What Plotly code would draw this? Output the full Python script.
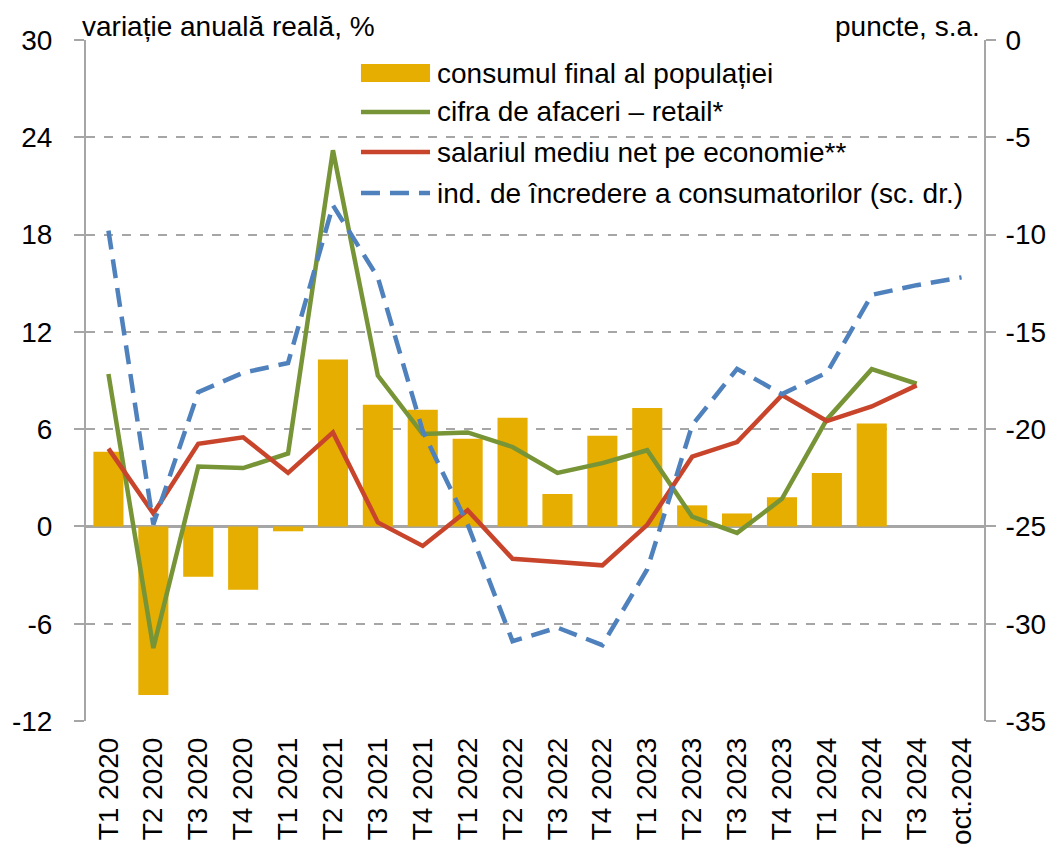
import plotly.graph_objects as go

categories = ["T1 2020", "T2 2020", "T3 2020", "T4 2020",
              "T1 2021", "T2 2021", "T3 2021", "T4 2021",
              "T1 2022", "T2 2022", "T3 2022", "T4 2022",
              "T1 2023", "T2 2023", "T3 2023", "T4 2023",
              "T1 2024", "T2 2024", "T3 2024", "oct.2024"]

consum = [4.6, -10.4, -3.1, -3.9, -0.3, 10.3, 7.5, 7.2, 5.4, 6.7,
          2.0, 5.6, 7.3, 1.3, 0.8, 1.8, 3.3, 6.35, None, None]
retail = [9.4, -7.5, 3.7, 3.6, 4.5, 23.2, 9.3, 5.7, 5.8, 4.9,
          3.3, 3.9, 4.7, 0.6, -0.4, 1.7, 6.6, 9.7, 8.8, None]
salariu = [4.8, 0.8, 5.1, 5.5, 3.3, 5.8, 0.25, -1.2, 1.0, -2.0,
           -2.2, -2.4, 0.1, 4.3, 5.2, 8.1, 6.5, 7.4, 8.7, None]
incredere = [-9.8, -24.9, -18.1, -17.1, -16.6, -8.5, -12.2, -20.1, -24.9, -30.9,
             -30.2, -31.1, -27.2, -19.8, -16.9, -18.2, -17.1, -13.1, -12.6, -12.2]

left_ticks = [-12, -6, 0, 6, 12, 18, 24, 30]
right_ticks = [-35, -30, -25, -20, -15, -10, -5, 0]

names = ["consumul final al populației",
         "cifra de afaceri – retail*",
         "salariul mediu net pe economie**",
         "ind. de încredere a consumatorilor (sc. dr.)"]

FONT = "Liberation Sans"
FS = 28
GRID = "#A6A6A6"
C_BAR = "#E5AE00"
C_GREEN = "#779437"
C_RED = "#C8452C"
C_BLUE = "#4F81BD"
DASH = "19px,10px"

fig = go.Figure()
fig.add_trace(go.Bar(x=categories, y=consum, name=names[0],
                     marker=dict(color=C_BAR, line=dict(width=0))))
fig.add_trace(go.Scatter(x=categories, y=retail, name=names[1], mode="lines",
                         line=dict(color=C_GREEN, width=4.5)))
fig.add_trace(go.Scatter(x=categories, y=salariu, name=names[2], mode="lines",
                         line=dict(color=C_RED, width=4.5)))
fig.add_trace(go.Scatter(x=categories, y=incredere, name=names[3], mode="lines",
                         yaxis="y2", line=dict(color=C_BLUE, width=4.5, dash=DASH)))

# hand-made legend (wide keys like the original)
key_x0, key_x1, text_x = 0.3062, 0.3831, 0.3885
rows_y = [0.9515, 0.8943, 0.8355, 0.7753]
shapes = [dict(type="rect", xref="paper", yref="paper",
               x0=key_x0, x1=key_x1, y0=rows_y[0] - 0.0133, y1=rows_y[0] + 0.0133,
               fillcolor=C_BAR, line=dict(width=0))]
for y, col, dash in zip(rows_y[1:], [C_GREEN, C_RED, C_BLUE], ["solid", "solid", DASH]):
    shapes.append(dict(type="line", xref="paper", yref="paper",
                       x0=key_x0, x1=key_x1, y0=y, y1=y,
                       line=dict(color=col, width=4.5, dash=dash)))
annotations = [dict(text=n, xref="paper", yref="paper", x=text_x, y=y,
                    xanchor="left", yanchor="middle", showarrow=False,
                    font=dict(size=FS))
               for n, y in zip(names, rows_y)]
annotations += [
    dict(text="variație anuală reală, %", xref="paper", yref="paper",
         x=0, y=1, xanchor="left", yanchor="bottom", showarrow=False,
         font=dict(size=FS), xshift=-6, yshift=-4),
    dict(text="puncte, s.a.", xref="paper", yref="paper",
         x=1, y=1, xanchor="right", yanchor="bottom", showarrow=False,
         font=dict(size=FS), xshift=-2, yshift=-4),
]

# the page body has an 8px margin, so the figure is drawn smaller to fit the window
fig.update_layout(
    width=1043, height=840,
    margin=dict(l=78, r=67, t=32, b=127, autoexpand=False),
    plot_bgcolor="white", paper_bgcolor="white",
    font=dict(family=FONT, size=FS, color="black"),
    bargap=0.33,
    showlegend=False,
    xaxis=dict(type="category", showline=False, showgrid=False, ticks="",
               tickangle=-90, ticklabelstandoff=10, automargin=False),
    yaxis=dict(range=[-12, 30], tickvals=left_ticks,
               ticktext=[str(v) for v in left_ticks],
               showgrid=True, gridcolor=GRID, griddash="dash", gridwidth=1.5,
               showline=True, linecolor=GRID, linewidth=2,
               ticks="outside", ticklen=10, tickcolor=GRID, tickwidth=1.5,
               ticklabelstandoff=16,
               zeroline=True, zerolinecolor=GRID, zerolinewidth=2.5,
               automargin=False),
    yaxis2=dict(range=[-35, 0], tickvals=right_ticks,
                ticktext=[str(v) for v in right_ticks],
                overlaying="y", side="right",
                showgrid=False, zeroline=False,
                showline=True, linecolor=GRID, linewidth=2,
                ticks="outside", ticklen=10, tickcolor=GRID, tickwidth=1.5,
                ticklabelstandoff=4,
                automargin=False),
    shapes=shapes,
    annotations=annotations,
)

fig.write_html("out.html")
